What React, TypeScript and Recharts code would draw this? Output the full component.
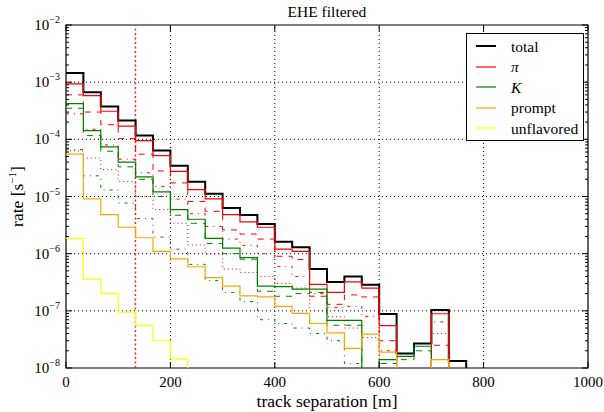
import { LineChart, Line, XAxis, YAxis, ReferenceLine, ReferenceArea } from 'recharts'

// 30 bins of equal width between 0 and 1000 m
const binCount = 30
const xMax = 1000
const binEdges = Array.from({ length: binCount + 1 }, (_, i) => (i * xMax) / binCount)

// rate per bin [1/s] (0 = empty bin)
const total = [1.44e-3, 6.65e-4, 3.74e-4, 2.13e-4, 1.17e-4, 6.4e-5, 3.46e-5, 1.82e-5, 1.12e-5, 6.3e-6, 4.77e-6, 3.3e-6, 1.62e-6, 1.29e-6, 5.4e-7, 3.2e-7, 4.0e-7, 2.85e-7, 8.8e-8, 1.8e-8, 2.67e-8, 1.03e-7, 1.32e-8]
const pion = [9.3e-4, 5.8e-4, 3.1e-4, 1.7e-4, 9.5e-5, 5.2e-5, 2.75e-5, 1.32e-5, 9.1e-6, 4.8e-6, 3.6e-6, 2.9e-6, 1.2e-6, 1.1e-6, 2.9e-7, 2.1e-7, 3.2e-7, 2.5e-7, 5.5e-8, 0, 0, 8.9e-8, 0]
const pionDashed = [6.0e-4, 3.0e-4, 1.8e-4, 1.03e-4, 5.5e-5, 2.8e-5, 1.73e-5, 8.2e-6, 5.5e-6, 2.6e-6, 2.2e-6, 1.8e-6, 9e-7, 7.9e-7, 1.8e-7, 1.3e-7, 1.9e-7, 1.75e-7, 3.0e-8, 0, 0, 2.5e-8, 0]
const pionDashDot = [2.8e-4, 1.5e-4, 8e-5, 4.5e-5, 2.6e-5, 1.5e-5, 9e-6, 5e-6, 3e-6, 1.8e-6, 1.4e-6, 1.0e-6, 6e-7, 4e-7, 2e-7, 1.15e-7, 1.2e-7, 8e-8, 2e-8, 0, 0, 6.4e-8, 0]
const pionDotted = [6.3e-5, 4.7e-5, 2.95e-5, 1.83e-5, 1.0e-5, 5.9e-6, 3.4e-6, 1.42e-6, 9.8e-7, 5.4e-7, 4.7e-7, 4.0e-7, 3.0e-7, 2.5e-7, 1.0e-7, 7.9e-8, 5e-8, 3.4e-8, 0, 0, 0, 4e-8, 0]
const kaon = [4.2e-4, 1.42e-4, 7.4e-5, 4.0e-5, 2.2e-5, 1.2e-5, 5.9e-6, 4.0e-6, 1.85e-6, 1.25e-6, 8.5e-7, 2.7e-7, 2.65e-7, 2.4e-7, 2.4e-7, 6.8e-8, 6.8e-8, 0, 1.4e-8, 1.6e-8, 2.4e-8, 0]
const kaonDashed = [3.5e-4, 1.17e-4, 6.2e-5, 3.3e-5, 2.0e-5, 1.0e-5, 4.7e-6, 3.4e-6, 1.5e-6, 1.0e-6, 8.0e-7, 2.2e-7, 1.8e-7, 2.0e-7, 2.1e-7, 5.6e-8, 5.6e-8, 0, 1.2e-8, 1.4e-8, 2e-8, 0]
const kaonDashDot = [6.6e-5, 2.3e-5, 1.3e-5, 7.7e-6, 4.1e-6, 1.95e-6, 1.2e-6, 6.5e-7, 3.4e-7, 2.1e-7, 1.45e-7, 7e-8, 6e-8, 5e-8, 4e-8, 3e-8, 1.2e-8, 0]
const prompt = [5.5e-5, 9.1e-6, 4.8e-6, 2.9e-6, 1.9e-6, 1.1e-6, 8.1e-7, 5.9e-7, 3.8e-7, 2.7e-7, 1.83e-7, 1.75e-7, 1.2e-7, 9e-8, 6e-8, 4.1e-8, 2.2e-8, 3.9e-8, 1.9e-8, 0, 0, 1.4e-8, 0]
const unflavored = [1.85e-6, 3.6e-7, 2.0e-7, 9.5e-8, 5.5e-8, 3.0e-8, 1.45e-8, 0]

const cutSeparation = 133

const xTicks = [0, 200, 400, 600, 800, 1000]
const yMajorTicks = [1e-8, 1e-7, 1e-6, 1e-5, 1e-4, 1e-3, 1e-2]

const W = 604
const H = 412
const M = { top: 25, right: 16, bottom: 0, left: 0 }
const Y_AXIS_W = 66
const X_AXIS_H = 44
const PLOT_LEFT = M.left + Y_AXIS_W
const PLOT_RIGHT = W - M.right
const PLOT_TOP = M.top
const PLOT_BOTTOM = H - M.bottom - X_AXIS_H
const FONT = '"Liberation Serif", "DejaVu Serif", serif'

const yTicks: number[] = []
yMajorTicks.forEach((d, i) => {
  yTicks.push(d)
  if (i < yMajorTicks.length - 1) for (let k = 2; k <= 9; k++) yTicks.push(d * k)
})

// values below the axis floor drop out of the clipped plot, like log-hist zeros
const FLOOR = 1e-12
const series = { total, pion, pionDashed, pionDashDot, pionDotted, kaon, kaonDashed, kaonDashDot, prompt, unflavored }
const rows = binEdges.map((x, i) => {
  const row: Record<string, number> = { x }
  Object.entries(series).forEach(([k, arr]) => {
    const v = i < arr.length ? arr[i] : 0
    row[k] = v > 0 ? v : FLOOR
  })
  return row
})

const lines = [
  { key: 'total', color: '#000000', width: 2, dash: undefined },
  { key: 'pionDashed', color: '#ff0000', width: 1, dash: '6 6' },
  { key: 'pionDashDot', color: '#ff0000', width: 1, dash: '3 5 1 5' },
  { key: 'pionDotted', color: '#ff0000', width: 1, dash: '1 3' },
  { key: 'kaonDashed', color: '#008000', width: 1, dash: '6 6' },
  { key: 'kaonDashDot', color: '#008000', width: 1, dash: '3 5 1 5' },
  { key: 'pion', color: '#ff0000', width: 1.2, dash: undefined },
  { key: 'kaon', color: '#008000', width: 1.2, dash: undefined },
  { key: 'prompt', color: '#ffa500', width: 1.2, dash: undefined },
  { key: 'unflavored', color: '#ffff00', width: 1.2, dash: undefined },
]

const legendItems = [
  { label: 'total', color: '#000000', width: 2, italic: false },
  { label: 'π', color: '#ff0000', width: 1.2, italic: true },
  { label: 'K', color: '#008000', width: 1.2, italic: true },
  { label: 'prompt', color: '#ffa500', width: 1.2, italic: false },
  { label: 'unflavored', color: '#ffff00', width: 1.2, italic: false },
]

function YTick(props: any) {
  const { y, payload } = props
  const v: number = payload.value
  const exp = Math.round(Math.log10(v))
  const major = Math.abs(v - Math.pow(10, exp)) < 1e-6 * v
  const len = major ? 6 : 3
  return (
    <g>
      <line x1={PLOT_LEFT} x2={PLOT_LEFT + len} y1={y} y2={y} stroke="#000" />
      <line x1={PLOT_RIGHT - len} x2={PLOT_RIGHT} y1={y} y2={y} stroke="#000" />
      {major && (
        <text x={PLOT_LEFT - 6} y={y + 5} textAnchor="end" fontFamily={FONT} fontSize={15} fill="#000">
          10
          <tspan dy={-7} fontSize={10}>{'−' + -exp}</tspan>
        </text>
      )}
    </g>
  )
}

function XTick(props: any) {
  const { x, payload } = props
  return (
    <g>
      <line x1={x} x2={x} y1={PLOT_BOTTOM} y2={PLOT_BOTTOM - 6} stroke="#000" />
      <line x1={x} x2={x} y1={PLOT_TOP} y2={PLOT_TOP + 6} stroke="#000" />
      <text x={x} y={PLOT_BOTTOM + 19} textAnchor="middle" fontFamily={FONT} fontSize={15} fill="#000">
        {payload.value}
      </text>
    </g>
  )
}

function YLabel() {
  return (
    <text
      transform={`translate(23, ${(PLOT_TOP + PLOT_BOTTOM) / 2}) rotate(-90)`}
      textAnchor="middle"
      fontFamily={FONT}
      fontSize={17.5}
      fill="#000"
    >
      rate [s<tspan dy={-7} fontSize={11}>−1</tspan>
      <tspan dy={7}>]</tspan>
    </text>
  )
}

function LegendBox() {
  return (
    <div
      style={{
        position: 'absolute',
        left: 466,
        top: 33,
        width: 118,
        height: 108,
        border: '1px solid #000',
        background: '#fff',
        boxSizing: 'border-box',
        paddingTop: 2,
        fontFamily: FONT,
        fontSize: 15.5,
      }}
    >
      {legendItems.map((it) => (
        <div key={it.label} style={{ display: 'flex', alignItems: 'center', height: 20.5 }}>
          <svg width={44} height={10} style={{ flex: 'none' }}>
            <line x1={9} x2={29} y1={5} y2={5} stroke={it.color} strokeWidth={it.width} />
          </svg>
          <span style={{ fontStyle: it.italic ? 'italic' : 'normal', lineHeight: 1 }}>{it.label}</span>
        </div>
      ))}
    </div>
  )
}

export default function App() {
  return (
    <div style={{ position: 'absolute', left: 0, top: 0, width: W, height: H, background: '#fff' }}>
      <div
        style={{
          position: 'absolute',
          left: PLOT_LEFT,
          width: PLOT_RIGHT - PLOT_LEFT,
          top: 3,
          textAlign: 'center',
          fontFamily: FONT,
          fontSize: 15.5,
        }}
      >
        EHE filtered
      </div>
      <LineChart width={W} height={H} data={rows} margin={M}>
        <XAxis
          type="number"
          dataKey="x"
          domain={[0, xMax]}
          ticks={xTicks}
          interval={0}
          height={X_AXIS_H}
          tick={<XTick />}
          tickLine={false}
          axisLine={false}
          label={{ value: 'track separation [m]', position: 'insideBottom', offset: 5, fontFamily: FONT, fontSize: 17.5, fill: '#000' }}
        />
        <YAxis
          scale="log"
          domain={[1e-8, 1e-2]}
          allowDataOverflow
          ticks={yTicks}
          interval={0}
          width={Y_AXIS_W}
          tick={<YTick />}
          tickLine={false}
          axisLine={false}
          label={<YLabel />}
        />
        {yMajorTicks.slice(1, -1).map((v) => (
          <ReferenceLine key={'gy' + v} y={v} stroke="#000" strokeDasharray="1 3" strokeWidth={1} />
        ))}
        {xTicks.slice(1, -1).map((v) => (
          <ReferenceLine key={'gx' + v} x={v} stroke="#000" strokeDasharray="1 3" strokeWidth={1} />
        ))}
        <ReferenceLine x={cutSeparation} stroke="#ff2020" strokeDasharray="2 2.5" strokeWidth={1.5} />
        {lines.map((l) => (
          <Line
            key={l.key}
            dataKey={l.key}
            type="stepAfter"
            stroke={l.color}
            strokeWidth={l.width}
            strokeDasharray={l.dash}
            dot={false}
            activeDot={false}
            isAnimationActive={false}
          />
        ))}
        <ReferenceArea x1={0} x2={xMax} y1={1e-8} y2={1e-2} fill="none" stroke="#000" strokeWidth={1.2} />
      </LineChart>
      <LegendBox />
    </div>
  )
}
